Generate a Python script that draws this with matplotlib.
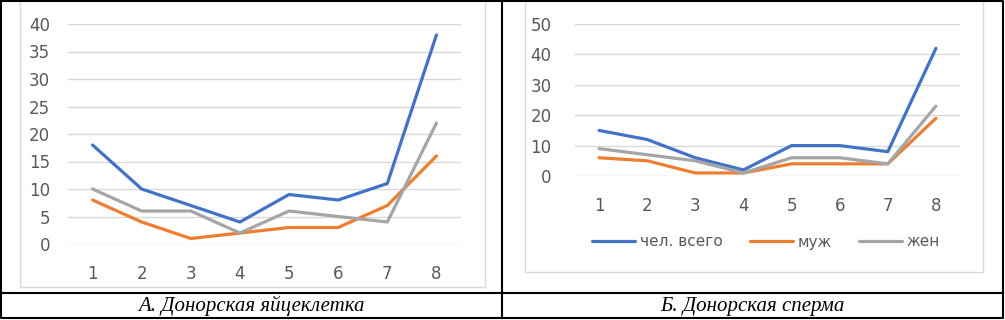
import matplotlib
matplotlib.use('Agg')
import matplotlib.pyplot as plt
from matplotlib.lines import Line2D

# data
x_vals = [1, 2, 3, 4, 5, 6, 7, 8]

# A. donor egg
egg_total = [18, 10, 7, 4, 9, 8, 11, 38]
egg_male = [8, 4, 1, 2, 3, 3, 7, 16]
egg_female = [10, 6, 6, 2, 6, 5, 4, 22]

# B. donor sperm
sperm_total = [15, 12, 6, 2, 10, 10, 8, 42]
sperm_male = [6, 5, 1, 1, 4, 4, 4, 19]
sperm_female = [9, 7, 5, 1, 6, 6, 4, 23]

series_names = ['чел. всего', 'муж', 'жен']
captions = ['А. Донорская яйцеклетка', 'Б. Донорская сперма']

colors = ['#4472C4', '#ED7D31', '#A5A5A5']
W, H = 1005, 320

fig = plt.figure(figsize=(W / 100, H / 100), dpi=100)
fig.patch.set_facecolor('white')


def px(x0, y0, x1, y1):
    # pixel box -> figure fraction rect
    return [x0 / W, 1 - y1 / H, (x1 - x0) / W, (y1 - y0) / H]


def style_axes(ax, ymax, ystep, pad_y, pad_x):
    ax.set_xlim(0.5, 8.5)
    ax.set_ylim(0, ymax)
    ax.set_xticks(x_vals)
    ax.set_yticks(range(0, ymax + 1, ystep))
    for s in ax.spines.values():
        s.set_visible(False)
    ax.grid(axis='y', color='#D9D9D9', linewidth=1)
    ax.set_axisbelow(True)
    ax.tick_params(axis='both', length=0, labelsize=12, colors='#595959')
    ax.tick_params(axis='y', pad=pad_y)
    ax.tick_params(axis='x', pad=pad_x)


# left chart
ax1 = fig.add_axes(px(68, 24, 461, 244))
for vals, c in zip([egg_total, egg_male, egg_female], colors):
    ax1.plot(x_vals, vals, color=c, linewidth=2.3, solid_capstyle='round')
style_axes(ax1, 40, 5, 13, 15)

# right chart
ax2 = fig.add_axes(px(575, 24, 960, 176))
lines = []
for vals, c, name in zip([sperm_total, sperm_male, sperm_female], colors, series_names):
    ln, = ax2.plot(x_vals, vals, color=c, linewidth=2.3, solid_capstyle='round', label=name)
    lines.append(ln)
style_axes(ax2, 50, 10, 17, 15)

fig.legend(handles=lines, loc='center', bbox_to_anchor=(766 / W, 1 - 242 / H),
           ncol=3, frameon=False, fontsize=11, handlelength=2.8, columnspacing=1.8,
           handletextpad=0.3, labelcolor='#595959')

# chart area borders (light grey)
def fline(xs, ys, color, lw):
    fig.add_artist(Line2D([x / W for x in xs], [1 - y / H for y in ys],
                          color=color, linewidth=lw, transform=fig.transFigure))

fline([20, 20, 485, 485], [2, 287, 287, 2], '#D9D9D9', 1)
fline([525, 525, 983, 983], [2, 272, 272, 2], '#D9D9D9', 1)

# table lines (black)
fline([1, 1003, 1003, 1, 1], [1, 1, 318, 318, 1], 'black', 1.5)
fline([502, 502], [1, 318], 'black', 1.5)
fline([1, 1003], [293, 293], 'black', 1.5)

# captions
for cx, txt in zip([251, 752], captions):
    fig.text(cx / W, 1 - 306 / H, txt, ha='center', va='center',
             family='Liberation Serif', style='italic', fontsize=15)

fig.savefig('out.png', dpi=100)
